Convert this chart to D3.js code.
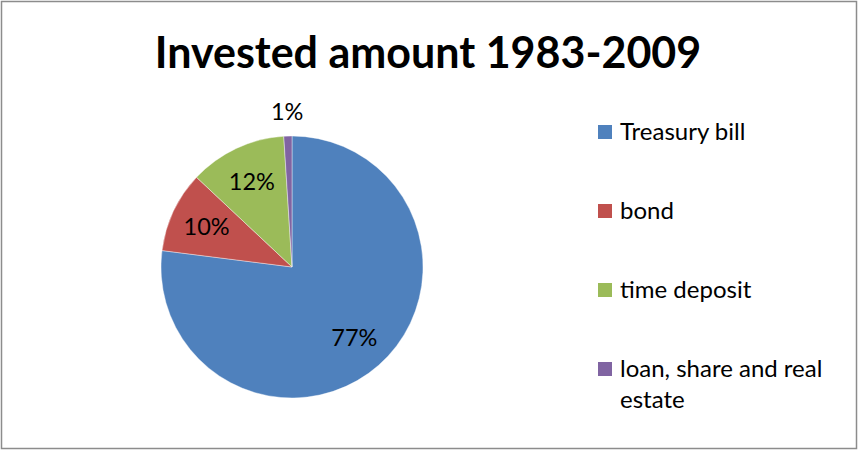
<!DOCTYPE html>
<html>
<head>
<meta charset="utf-8">
<script src="https://cdn.jsdelivr.net/npm/d3@7"></script>
<style>
  html, body { margin: 0; padding: 0; background: #fff; }
  svg { display: block; }
  text { font-family: Lato, "Open Sans", sans-serif; fill: #000; }
</style>
</head>
<body>
<svg id="chart" width="859" height="451"></svg>
<script>
// Share of invested amount by asset type, 1983-2009 (percent)
const categories = ["Treasury bill", "bond", "time deposit", "loan, share and real estate"];
const shares = [77, 10, 12, 1];
const colors = ["#4F81BD", "#C0504D", "#9BBB59", "#8064A2"];
const title = "Invested amount 1983-2009";

const svg = d3.select("#chart");
const W = 859, H = 451;

// chart frame
svg.append("rect")
  .attr("x", 1.5).attr("y", 1.5)
  .attr("width", W - 4).attr("height", H - 4)
  .attr("fill", "#fff")
  .attr("stroke", "#8c8c8c").attr("stroke-width", 1.5);

svg.append("text")
  .attr("x", 428).attr("y", 68)
  .attr("text-anchor", "middle")
  .attr("font-size", 43).attr("font-weight", 700)
  .text(title);

const cx = 292, cy = 267, R = 131;
const data = categories.map((c, i) => ({ name: c, value: shares[i], color: colors[i] }));

const pie = d3.pie().value(d => d.value).sort(null);
const arcs = pie(data);
const arc = d3.arc().innerRadius(0).outerRadius(R);
const labelArcIn = d3.arc().innerRadius(R * 0.72).outerRadius(R * 0.72);
const labelArcOut = d3.arc().innerRadius(R + 24).outerRadius(R + 24);

const g = svg.append("g").attr("transform", `translate(${cx},${cy})`);
g.selectAll("path.slice").data(arcs).join("path")
  .attr("class", "slice")
  .attr("d", arc)
  .attr("fill", d => d.data.color)
  .attr("stroke", "#fff").attr("stroke-width", 0.4);

g.selectAll("text.pct").data(arcs).join("text")
  .attr("class", "pct")
  .attr("transform", d => {
    const small = d.data.value < 3;
    const [x, y] = (small ? labelArcOut : labelArcIn).centroid(d);
    return `translate(${x},${y})`;
  })
  .attr("text-anchor", "middle")
  .attr("dy", "0.35em")
  .attr("font-size", 23.5)
  .text(d => d.data.value + "%");

// legend
const legendY = d3.scalePoint().domain(categories).range([132, 369]);
const lg = svg.append("g");
const items = lg.selectAll("g").data(data).join("g")
  .attr("transform", d => `translate(598,${legendY(d.name)})`);
items.append("rect")
  .attr("x", 0).attr("y", -7).attr("width", 14).attr("height", 14)
  .attr("fill", d => d.color);
items.append("text")
  .attr("x", 22).attr("y", 0)
  .attr("dy", "0.35em")
  .attr("font-size", 24)
  .each(function(d) {
    const t = d3.select(this);
    if (d.name === "loan, share and real estate") {
      t.append("tspan").attr("x", 22).text("loan, share and real");
      t.append("tspan").attr("x", 22).attr("dy", 31).text("estate");
    } else {
      t.text(d.name);
    }
  });
</script>
</body>
</html>
